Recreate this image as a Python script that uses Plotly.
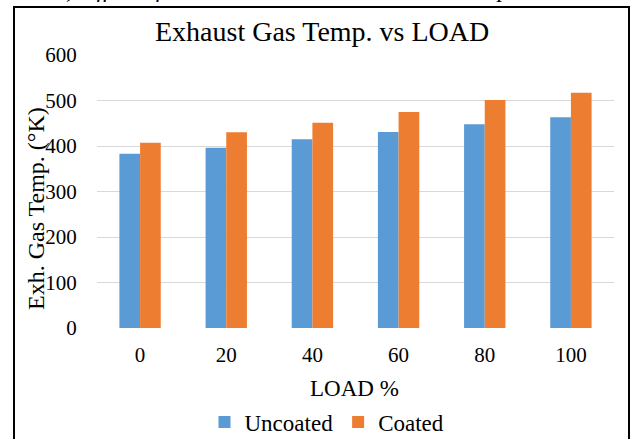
import plotly.graph_objects as go

categories = ["0", "20", "40", "60", "80", "100"]
uncoated = [383, 396, 415, 431, 448, 463]
coated = [407, 430, 451, 475, 501, 517]
y_ticks = [0, 100, 200, 300, 400, 500, 600]

FONT = "'Liberation Serif', 'Times New Roman', serif"
W, H = 634, 439
L, R, T, B = 97, 20, 55, 111
PW, PH = W - L - R, H - T - B


def px_x(x):
    return (x - L) / PW


def px_y(y):
    return (H - B - y) / PH


fig = go.Figure()
fig.add_trace(go.Bar(name="Uncoated", x=categories, y=uncoated,
                     marker=dict(color="#5B9BD5", line=dict(width=0))))
fig.add_trace(go.Bar(name="Coated", x=categories, y=coated,
                     marker=dict(color="#ED7D31", line=dict(width=0))))

fig.update_layout(
    width=W, height=H,
    margin=dict(l=L, r=R, t=T, b=B, pad=0, autoexpand=False),
    paper_bgcolor="white", plot_bgcolor="white",
    font=dict(family=FONT, color="#000000", size=21),
    barmode="group", bargap=0.52, bargroupgap=0,
    showlegend=True,
    legend=dict(orientation="h", x=px_x(327), xanchor="center",
                y=px_y(422), yanchor="middle",
                font=dict(family=FONT, size=23, color="#000000"),
                bgcolor="rgba(0,0,0,0)", itemsizing="constant",
                itemwidth=30, tracegroupgap=0),
    xaxis=dict(type="category", showgrid=False, showline=False, zeroline=False,
               ticks="outside", ticklen=8, tickcolor="rgba(0,0,0,0)",
               tickfont=dict(family=FONT, size=21, color="#000000")),
    yaxis=dict(range=[0, 600], tickvals=y_ticks, showgrid=True,
               gridcolor="#D9D9D9", gridwidth=1, zeroline=False, showline=False,
               ticks="outside", ticklen=15, tickcolor="rgba(0,0,0,0)",
               tickfont=dict(family=FONT, size=21, color="#000000")),
    annotations=[
        dict(text="Exhaust Gas Temp. vs LOAD", xref="paper", yref="paper",
             x=px_x(322), y=px_y(31), xanchor="center", yanchor="middle",
             showarrow=False, font=dict(family=FONT, size=28, color="#000000")),
        dict(text="LOAD %", xref="paper", yref="paper",
             x=px_x(354), y=px_y(388), xanchor="center", yanchor="middle",
             showarrow=False, font=dict(family=FONT, size=23, color="#000000")),
        dict(text="Exh. Gas Temp. (°K)", xref="paper", yref="paper",
             x=px_x(36), y=px_y(209), xanchor="center", yanchor="middle",
             textangle=-90, showarrow=False,
             font=dict(family=FONT, size=24, color="#000000")),
        dict(text="<i>b) Effect of Brake Power on Exhaust Gas Temperature</i>",
             xref="paper", yref="paper",
             x=px_x(318), y=px_y(4), xanchor="center", yanchor="bottom",
             showarrow=False, font=dict(family=FONT, size=24, color="#000000")),
    ],
    shapes=[
        dict(type="rect", xref="paper", yref="paper",
             x0=px_x(14), x1=px_x(629), y0=px_y(460), y1=px_y(7),
             line=dict(color="#000000", width=2), fillcolor="rgba(0,0,0,0)",
             layer="above"),
    ],
)

fig.write_html("out.html")
